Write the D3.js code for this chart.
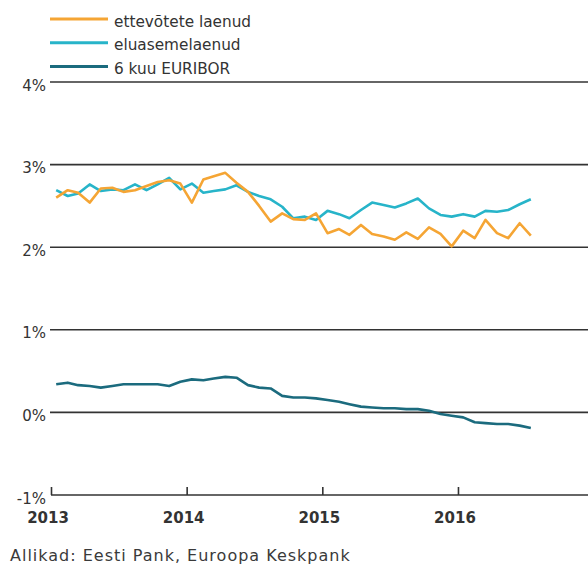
<!DOCTYPE html>
<html>
<head>
<meta charset="utf-8">
<script src="https://cdn.jsdelivr.net/npm/d3@7"></script>
<style>
  body { margin: 0; background: #fff; }
  svg { display: block; font-family: "DejaVu Sans", sans-serif; }
</style>
</head>
<body>
<div id="vis"></div>
<script>
var width = 588;
var height = 565;

// monthly observations, Jan 2013 .. Jul 2016 (plotted mid-month)
var firstMonth = new Date(2013, 0, 15);
var ettevotted = [2.60, 2.69, 2.66, 2.54, 2.71, 2.72, 2.67, 2.69, 2.74, 2.79, 2.81, 2.77,
                  2.54, 2.82, 2.86, 2.90, 2.78, 2.67, 2.50, 2.31, 2.41, 2.34, 2.33, 2.41,
                  2.17, 2.22, 2.15, 2.27, 2.16, 2.13, 2.09, 2.18, 2.10, 2.24, 2.16, 2.01,
                  2.20, 2.11, 2.33, 2.17, 2.11, 2.29, 2.14];
var eluase = [2.69, 2.62, 2.65, 2.76, 2.68, 2.70, 2.69, 2.76, 2.69, 2.76, 2.84, 2.70,
              2.77, 2.66, 2.68, 2.70, 2.75, 2.67, 2.62, 2.58, 2.49, 2.35, 2.37, 2.33,
              2.44, 2.40, 2.35, 2.45, 2.54, 2.51, 2.48, 2.53, 2.59, 2.47, 2.39, 2.37,
              2.40, 2.37, 2.44, 2.43, 2.45, 2.52, 2.58];
var euribor = [0.34, 0.36, 0.33, 0.32, 0.30, 0.32, 0.34, 0.34, 0.34, 0.34, 0.32, 0.37,
               0.40, 0.39, 0.41, 0.43, 0.42, 0.33, 0.30, 0.29, 0.20, 0.18, 0.18, 0.17,
               0.15, 0.13, 0.10, 0.07, 0.06, 0.05, 0.05, 0.04, 0.04, 0.02, -0.02, -0.04,
               -0.06, -0.12, -0.13, -0.14, -0.14, -0.16, -0.19];

var seriesNames = ["ettevõtete laenud", "eluasemelaenud", "6 kuu EURIBOR"];
var seriesColors = ["#f5a534", "#27b4c9", "#1b6b7e"];
var yTicks = [-1, 0, 1, 2, 3, 4];
var yearTicks = [2013, 2014, 2015, 2016];
var sourceText = "Allikad: Eesti Pank, Euroopa Keskpank";

var series = [ettevotted, eluase, euribor].map(function (vals, k) {
    return {
        name: seriesNames[k],
        color: seriesColors[k],
        values: vals.map(function (v, i) {
            return { date: d3.timeMonth.offset(firstMonth, i), value: v };
        })
    };
});

var svg = d3.select('#vis')
    .append('svg')
    .attr('width', width)
    .attr('height', height);

var x = d3.scaleTime()
    .domain([new Date(2013, 0, 1), new Date(2017, 0, 1)])
    .range([51, 594]);

var y = d3.scaleLinear()
    .domain([-1, 4])
    .range([495, 82]);

// horizontal grid lines + labels
var grid = svg.append('g');
grid.selectAll('line')
    .data(yTicks.filter(function (d) { return d > -1; }))
    .enter().append('line')
    .attr('x1', 50)
    .attr('x2', width)
    .attr('y1', function (d) { return y(d); })
    .attr('y2', function (d) { return y(d); })
    .attr('stroke', '#333')
    .attr('stroke-width', 1.6);

grid.selectAll('text')
    .data(yTicks)
    .enter().append('text')
    .attr('x', 46)
    .attr('y', function (d) { return y(d) + 8.5; })
    .attr('text-anchor', 'end')
    .attr('font-size', 15)
    .attr('fill', '#333')
    .text(function (d) { return d + '%'; });

// x axis, ticks pointing up
var xAxis = d3.axisBottom(x)
    .tickValues(yearTicks.map(function (yr) { return new Date(yr, 0, 1); }))
    .tickSize(-8)
    .tickSizeOuter(0)
    .tickFormat(d3.timeFormat('%Y'));

var gx = svg.append('g')
    .attr('transform', 'translate(0,' + y(-1) + ')')
    .call(xAxis);
gx.select('.domain')
    .attr('d', 'M' + x.range()[0] + ',0H' + width)
    .attr('stroke', '#333')
    .attr('stroke-width', 1.6);
gx.selectAll('.tick line')
    .attr('stroke', '#333')
    .attr('stroke-width', 1.6);
gx.selectAll('.tick text')
    .attr('x', -3.5)
    .attr('y', 0)
    .attr('dy', 28)
    .attr('font-family', '"DejaVu Sans", sans-serif')
    .attr('font-size', 15)
    .attr('font-weight', 'bold')
    .attr('fill', '#333');

// lines
var line = d3.line()
    .x(function (d) { return x(d.date); })
    .y(function (d) { return y(d.value); });

svg.append('g').selectAll('path')
    .data(series.slice().reverse())
    .enter().append('path')
    .attr('d', function (d) { return line(d.values); })
    .attr('fill', 'none')
    .attr('stroke', function (d) { return d.color; })
    .attr('stroke-width', 2.6)
    .attr('stroke-linejoin', 'round');

// legend
var legend = svg.append('g').selectAll('g')
    .data(series)
    .enter().append('g')
    .attr('transform', function (d, i) { return 'translate(50,' + (19 + i * 23.7) + ')'; });

legend.append('line')
    .attr('x1', 0)
    .attr('x2', 58)
    .attr('stroke', function (d) { return d.color; })
    .attr('stroke-width', 3);

legend.append('text')
    .attr('x', 64)
    .attr('y', 7.5)
    .attr('font-size', 15.3)
    .attr('fill', '#333')
    .text(function (d) { return d.name; });

// source note
svg.append('text')
    .attr('x', 10)
    .attr('y', 561)
    .attr('font-size', 16)
    .attr('letter-spacing', 1)
    .attr('fill', '#3a3a3a')
    .text(sourceText);
</script>
</body>
</html>
